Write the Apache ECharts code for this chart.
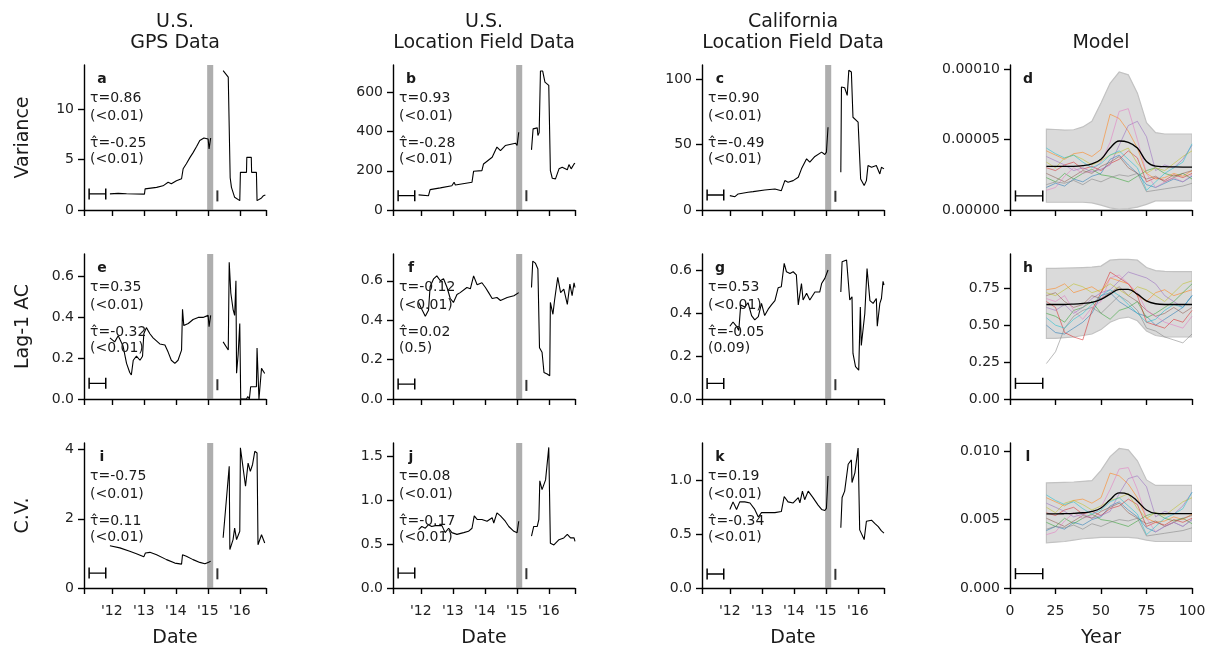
<!DOCTYPE html>
<html><head><meta charset="utf-8">
<script src="https://cdn.jsdelivr.net/npm/echarts@6/dist/echarts.min.js"></script>
<style>html,body{margin:0;padding:0;background:#fff}#c{width:1216px;height:649px}</style>
</head><body><div id="c"></div>
<script>
// ---------------- DATA ----------------
// Date panels: [year, value]
const varGpsPre = [[2011.94,1.6],[2012.2,1.65],[2012.46,1.62],[2013.02,1.58],[2013.04,2.1],[2013.4,2.25],[2013.6,2.4],[2013.76,2.75],[2013.86,2.6],[2014.02,2.9],[2014.18,3.1],[2014.23,4.1],[2014.33,4.6],[2014.44,5.2],[2014.54,5.7],[2014.65,6.3],[2014.75,6.9],[2014.88,7.15],[2015.01,7.05],[2015.04,6.06],[2015.09,7.15]];
const varGpsPost = [[2015.48,13.84],[2015.64,13.2],[2015.70,3.2],[2015.74,2.25],[2015.84,1.26],[2016.0,0.93],[2016.02,3.74],[2016.21,3.74],[2016.22,5.23],[2016.36,5.23],[2016.37,3.74],[2016.52,3.74],[2016.54,0.93],[2016.68,1.2],[2016.74,1.42],[2016.8,1.5]];
const varUsPre = [[2011.93,77],[2012.24,73],[2012.29,104],[2012.61,113],[2012.97,124],[2013.04,142],[2013.08,128],[2013.6,142],[2013.65,198],[2013.91,201],[2013.96,235],[2014.23,269],[2014.38,321],[2014.49,303],[2014.64,329],[2014.96,341],[2015.01,329],[2015.06,397]];
const varUsPost = [[2015.46,307],[2015.51,414],[2015.64,419],[2015.66,380],[2015.70,395],[2015.74,709],[2015.81,709],[2015.88,653],[2016.0,636],[2016.05,201],[2016.11,162],[2016.21,159],[2016.32,210],[2016.42,218],[2016.58,205],[2016.63,232],[2016.70,210],[2016.79,235],[2016.82,239]];
const varCaPre = [[2012.0,11.0],[2012.16,10.2],[2012.26,12.3],[2012.57,13.6],[2012.73,14.1],[2013.09,15.3],[2013.41,16.1],[2013.61,14.8],[2013.72,22.5],[2013.82,21.2],[2013.98,22.5],[2014.14,25.1],[2014.24,31.5],[2014.40,39.2],[2014.5,36.6],[2014.66,41.0],[2014.87,44.3],[2014.97,42.5],[2015.02,44.3],[2015.07,63.4]];
const varCaPost = [[2015.47,28.9],[2015.49,94.1],[2015.59,93.6],[2015.67,87.7],[2015.72,107],[2015.80,105.6],[2015.85,71],[2016.01,67.3],[2016.09,23.8],[2016.2,18.7],[2016.27,22.5],[2016.32,34],[2016.43,32.7],[2016.58,34],[2016.69,27.6],[2016.74,32.7],[2016.82,31.5]];

const acGpsPre = [[2011.94,0.30],[2012.09,0.28],[2012.2,0.31],[2012.35,0.26],[2012.46,0.175],[2012.56,0.13],[2012.61,0.118],[2012.67,0.19],[2012.77,0.21],[2012.88,0.19],[2012.96,0.21],[2013.0,0.32],[2013.08,0.35],[2013.19,0.32],[2013.29,0.30],[2013.5,0.27],[2013.66,0.265],[2013.76,0.23],[2013.86,0.19],[2013.97,0.175],[2014.07,0.19],[2014.18,0.24],[2014.21,0.44],[2014.25,0.36],[2014.39,0.37],[2014.54,0.39],[2014.70,0.40],[2014.85,0.40],[2015.01,0.41],[2015.04,0.355],[2015.09,0.41]];
const acGpsPost = [[2015.48,0.28],[2015.64,0.24],[2015.67,0.67],[2015.72,0.52],[2015.79,0.44],[2015.84,0.41],[2015.88,0.58],[2015.9,0.126],[2015.95,0.22],[2016.0,0.37],[2016.03,0.0],[2016.21,0.0],[2016.25,0.012],[2016.3,0.0],[2016.34,0.06],[2016.52,0.06],[2016.54,0.25],[2016.60,0.0],[2016.68,0.15],[2016.78,0.125]];
const acUsPre = [[2011.93,0.49],[2012.03,0.456],[2012.14,0.42],[2012.24,0.45],[2012.29,0.57],[2012.40,0.61],[2012.50,0.625],[2012.61,0.60],[2012.71,0.61],[2012.82,0.566],[2012.92,0.51],[2013.02,0.49],[2013.13,0.53],[2013.23,0.54],[2013.44,0.566],[2013.55,0.56],[2013.65,0.625],[2013.76,0.58],[2013.91,0.59],[2014.02,0.566],[2014.12,0.54],[2014.23,0.51],[2014.38,0.515],[2014.49,0.50],[2014.70,0.515],[2014.91,0.524],[2015.06,0.54]];
const acUsPost = [[2015.46,0.566],[2015.50,0.70],[2015.58,0.69],[2015.66,0.66],[2015.71,0.26],[2015.79,0.237],[2015.85,0.135],[2015.95,0.127],[2016.03,0.118],[2016.05,0.49],[2016.13,0.43],[2016.18,0.50],[2016.28,0.617],[2016.37,0.54],[2016.47,0.558],[2016.58,0.48],[2016.66,0.583],[2016.73,0.524],[2016.79,0.59],[2016.82,0.566]];
const acCaPre = [[2012.0,0.34],[2012.10,0.36],[2012.21,0.34],[2012.28,0.32],[2012.34,0.44],[2012.47,0.43],[2012.57,0.45],[2012.68,0.39],[2012.78,0.37],[2012.89,0.385],[2012.99,0.447],[2013.09,0.39],[2013.20,0.42],[2013.30,0.44],[2013.41,0.46],[2013.51,0.52],[2013.61,0.525],[2013.70,0.634],[2013.77,0.595],[2013.88,0.587],[2013.98,0.595],[2014.08,0.58],[2014.14,0.44],[2014.24,0.54],[2014.29,0.463],[2014.40,0.494],[2014.50,0.463],[2014.66,0.50],[2014.81,0.50],[2014.87,0.54],[2014.97,0.564],[2015.07,0.603]];
const acCaPost = [[2015.47,0.50],[2015.51,0.642],[2015.65,0.65],[2015.70,0.653],[2015.75,0.463],[2015.82,0.478],[2015.85,0.213],[2015.93,0.151],[2016.03,0.135],[2016.08,0.43],[2016.11,0.25],[2016.22,0.40],[2016.29,0.61],[2016.38,0.46],[2016.48,0.447],[2016.58,0.47],[2016.61,0.34],[2016.69,0.447],[2016.74,0.47],[2016.79,0.55],[2016.82,0.533]];

const cvGpsPre = [[2011.94,1.22],[2012.25,1.16],[2012.56,1.06],[2012.77,0.99],[2013.0,0.90],[2013.05,1.01],[2013.19,1.03],[2013.40,0.96],[2013.71,0.82],[2013.97,0.72],[2014.18,0.69],[2014.21,0.96],[2014.33,0.92],[2014.54,0.82],[2014.75,0.74],[2014.91,0.70],[2015.01,0.74],[2015.09,0.77]];
const cvGpsPost = [[2015.48,1.45],[2015.67,3.52],[2015.69,1.11],[2015.79,1.40],[2015.84,1.73],[2015.90,1.40],[2016.0,1.64],[2016.02,4.05],[2016.18,2.94],[2016.26,3.61],[2016.33,3.37],[2016.40,3.57],[2016.47,3.95],[2016.54,3.90],[2016.57,1.25],[2016.63,1.20],[2016.68,1.54],[2016.78,1.30]];
const cvUsPre = [[2011.93,0.665],[2012.03,0.70],[2012.14,0.68],[2012.24,0.72],[2012.34,0.70],[2012.45,0.71],[2012.66,0.71],[2012.76,0.63],[2012.87,0.68],[2012.97,0.63],[2013.13,0.61],[2013.34,0.63],[2013.49,0.645],[2013.60,0.68],[2013.67,0.82],[2013.76,0.78],[2013.91,0.78],[2014.07,0.76],[2014.23,0.80],[2014.28,0.74],[2014.38,0.855],[2014.49,0.82],[2014.64,0.76],[2014.75,0.70],[2014.91,0.645],[2015.01,0.63],[2015.06,0.76]];
const cvUsPost = [[2015.46,0.59],[2015.53,0.70],[2015.64,0.70],[2015.69,0.78],[2015.72,1.22],[2015.79,1.12],[2015.90,1.23],[2016.0,1.60],[2016.05,0.51],[2016.16,0.49],[2016.32,0.55],[2016.47,0.57],[2016.58,0.61],[2016.68,0.57],[2016.79,0.57],[2016.82,0.53]];
const cvCaPre = [[2012.0,0.73],[2012.10,0.80],[2012.21,0.73],[2012.31,0.80],[2012.47,0.80],[2012.63,0.79],[2012.78,0.73],[2012.89,0.66],[2012.99,0.70],[2013.20,0.70],[2013.41,0.70],[2013.61,0.71],[2013.70,0.85],[2013.82,0.80],[2013.98,0.79],[2014.14,0.84],[2014.19,0.79],[2014.27,0.90],[2014.34,0.82],[2014.45,0.90],[2014.60,0.84],[2014.76,0.77],[2014.87,0.73],[2014.97,0.72],[2015.02,0.74],[2015.07,1.04]];
const cvCaPost = [[2015.47,0.56],[2015.51,0.84],[2015.59,0.90],[2015.70,1.15],[2015.80,1.19],[2015.82,0.98],[2015.91,1.07],[2016.01,1.30],[2016.06,0.54],[2016.20,0.45],[2016.27,0.62],[2016.43,0.63],[2016.53,0.60],[2016.64,0.57],[2016.74,0.53],[2016.82,0.51]];

// Date axis ticks and labels
const dateTicks = [2011.13, 2012, 2013, 2014, 2015, 2016, 2016.82];
const dateLabels = [2012, 2013, 2014, 2015, 2016];
const gapBand = [2014.98, 2015.17];
const windowBar = [2011.29, 2011.81];
const restartMark = 2015.3;

// Model panels
const modelYears = [20,25,30,35,40,45,50,55,60,65,70,75,80,85,90,95,100];
const modelWindowBar = [3, 18];
// variance (units of 1e-5)
const varModelMean = [3.1,3.1,3.1,3.1,3.15,3.28,3.6,4.4,4.9,4.8,4.4,3.45,3.12,3.08,3.06,3.05,3.05];
const varModelHigh = [5.75,5.72,5.68,5.7,5.9,6.3,7.6,9.0,9.8,9.6,8.3,6.2,5.5,5.4,5.4,5.4,5.4];
const varModelLow = [0.55,0.55,0.55,0.55,0.55,0.5,0.35,0.15,0.05,0.1,0.2,0.4,0.65,0.65,0.65,0.65,0.65];
const varModelRuns = [
 [1.6,1.9,1.7,2.2,2.0,2.4,2.6,3.6,3.9,3.2,2.6,1.8,1.6,1.9,2.2,2.0,2.4],
 [4.2,3.9,3.6,4.0,4.1,3.8,4.3,6.8,6.5,5.6,4.4,2.6,2.2,2.3,2.6,2.4,2.8],
 [2.3,2.0,2.6,2.2,2.6,2.9,2.5,2.4,2.2,2.0,2.4,2.8,3.0,2.6,2.4,2.6,2.2],
 [3.0,2.8,3.2,3.4,2.9,3.1,2.8,3.3,3.6,4.2,3.7,2.0,2.3,2.1,2.5,2.3,2.6],
 [3.8,3.5,3.2,2.8,3.0,2.7,2.9,3.2,4.6,6.0,6.3,5.2,2.8,3.2,3.0,3.6,4.6],
 [2.6,2.3,2.0,2.4,2.8,2.6,3.1,3.4,3.8,3.0,2.6,2.2,2.4,2.0,2.3,2.6,2.8],
 [1.4,1.6,2.4,3.0,2.6,2.8,3.4,4.8,7.0,7.2,5.0,2.6,1.6,2.0,2.3,2.0,2.5],
 [1.8,2.0,1.9,2.1,1.8,2.2,2.0,2.3,2.5,2.4,2.6,1.3,1.4,1.5,1.6,1.7,1.9],
 [3.4,3.0,3.7,3.9,3.6,3.2,3.5,3.9,4.1,4.4,3.3,2.6,3.0,2.8,3.3,3.8,4.2],
 [4.4,4.0,3.7,3.9,3.4,3.0,3.3,3.9,4.2,3.6,3.0,1.4,2.0,2.6,3.0,3.4,4.7]
];
// lag-1 autocorrelation
const acModelMean = [0.64,0.64,0.64,0.643,0.648,0.655,0.675,0.71,0.742,0.743,0.71,0.665,0.645,0.64,0.64,0.64,0.64];
const acModelHigh = [0.885,0.885,0.886,0.888,0.89,0.893,0.90,0.94,0.946,0.945,0.94,0.89,0.87,0.865,0.863,0.863,0.863];
const acModelLow = [0.41,0.41,0.415,0.42,0.43,0.44,0.47,0.52,0.545,0.555,0.53,0.46,0.43,0.42,0.42,0.42,0.42];
const acModelRuns = [
 [0.50,0.45,0.44,0.48,0.52,0.58,0.70,0.72,0.66,0.62,0.58,0.56,0.50,0.54,0.58,0.62,0.70],
 [0.74,0.75,0.78,0.72,0.74,0.76,0.72,0.82,0.80,0.78,0.70,0.66,0.72,0.74,0.70,0.72,0.74],
 [0.58,0.56,0.52,0.60,0.62,0.66,0.58,0.54,0.60,0.62,0.66,0.55,0.58,0.62,0.66,0.72,0.78],
 [0.66,0.62,0.45,0.42,0.40,0.60,0.72,0.86,0.82,0.78,0.70,0.52,0.50,0.48,0.54,0.52,0.60],
 [0.62,0.60,0.64,0.58,0.62,0.68,0.72,0.74,0.80,0.86,0.84,0.82,0.78,0.70,0.66,0.62,0.70],
 [0.70,0.72,0.66,0.62,0.64,0.70,0.68,0.72,0.76,0.70,0.66,0.60,0.56,0.58,0.62,0.58,0.62],
 [0.68,0.66,0.70,0.60,0.54,0.62,0.66,0.82,0.84,0.78,0.72,0.60,0.56,0.52,0.50,0.48,0.56],
 [0.24,0.32,0.48,0.56,0.60,0.62,0.58,0.64,0.70,0.66,0.60,0.48,0.46,0.42,0.40,0.38,0.44],
 [0.72,0.70,0.74,0.78,0.76,0.72,0.74,0.78,0.74,0.70,0.76,0.74,0.70,0.66,0.72,0.78,0.80],
 [0.55,0.50,0.48,0.54,0.58,0.64,0.70,0.74,0.70,0.64,0.58,0.52,0.54,0.60,0.64,0.62,0.70]
];
// coefficient of variation (units of 1e-3)
const cvModelMean = [5.42,5.42,5.43,5.45,5.5,5.6,5.85,6.45,6.95,6.85,6.35,5.7,5.46,5.44,5.44,5.44,5.44];
const cvModelHigh = [7.68,7.7,7.72,7.75,7.8,7.85,8.6,9.6,10.2,10.1,9.3,7.9,7.5,7.5,7.5,7.5,7.5];
const cvModelLow = [3.3,3.35,3.4,3.5,3.6,3.65,3.7,3.7,3.7,3.7,3.65,3.5,3.4,3.4,3.4,3.4,3.4];
const cvModelRuns = [
 [4.2,4.5,4.3,4.8,4.6,5.0,5.2,6.0,6.3,5.7,5.2,4.4,4.1,4.5,4.8,4.5,5.0],
 [6.6,6.3,6.0,6.4,6.5,6.2,6.6,8.4,8.2,7.6,6.6,5.1,4.8,4.9,5.2,5.0,5.4],
 [4.8,4.5,5.1,4.7,5.1,5.4,5.0,4.9,4.7,4.5,4.9,5.3,5.5,5.1,4.9,5.1,4.7],
 [5.5,5.3,5.7,5.9,5.4,5.6,5.3,5.8,6.0,6.5,6.1,4.5,4.8,4.6,5.0,4.8,5.1],
 [6.2,5.9,5.6,5.2,5.4,5.1,5.3,5.6,6.9,8.0,8.2,7.4,5.2,5.6,5.4,6.0,7.0],
 [5.1,4.8,4.5,4.9,5.3,5.1,5.6,5.9,6.2,5.5,5.1,4.7,4.9,4.5,4.8,5.1,5.3],
 [3.9,4.1,4.9,5.5,5.1,5.3,5.9,7.2,8.7,8.8,7.2,5.1,4.1,4.5,4.8,4.5,5.0],
 [4.3,4.5,4.4,4.6,4.3,4.7,4.5,4.8,5.0,4.9,5.1,3.8,3.9,4.0,4.1,4.2,4.4],
 [5.9,5.5,6.2,6.4,6.1,5.7,6.0,6.4,6.6,6.9,5.8,5.1,5.5,5.3,5.8,6.3,6.6],
 [6.8,6.4,6.1,6.3,5.8,5.4,5.7,6.3,6.6,6.0,5.4,3.9,4.5,5.1,5.4,5.8,7.0]
];

const TAU = '\u03C4', TAUHAT = '\u03C4\u0302';
const tauText = {
 a:[TAU+'=0.86','(<0.01)',TAUHAT+'=-0.25','(<0.01)'],
 b:[TAU+'=0.93','(<0.01)',TAUHAT+'=-0.28','(<0.01)'],
 c:[TAU+'=0.90','(<0.01)',TAUHAT+'=-0.49','(<0.01)'],
 e:[TAU+'=0.35','(<0.01)',TAUHAT+'=-0.32','(<0.01)'],
 f:[TAU+'=-0.12','(<0.01)',TAUHAT+'=0.02','(0.5)'],
 g:[TAU+'=0.53','(<0.01)',TAUHAT+'=-0.05','(0.09)'],
 i:[TAU+'=-0.75','(<0.01)',TAUHAT+'=0.11','(<0.01)'],
 j:[TAU+'=0.08','(<0.01)',TAUHAT+'=-0.17','(<0.01)'],
 k:[TAU+'=0.19','(<0.01)',TAUHAT+'=-0.34','(<0.01)']
};
const colTitles = [['U.S.','GPS Data'],['U.S.','Location Field Data'],['California','Location Field Data'],['','Model']];
const rowNames = ['Variance','Lag-1 AC','C.V.'];

// ---------------- LAYOUT / STYLE ----------------
const FONT = '"DejaVu Sans", sans-serif';
const TAB10 = ['#1f77b4','#ff7f0e','#2ca02c','#d62728','#9467bd','#8c564b','#e377c2','#7f7f7f','#bcbd22','#17becf'];
const COL_LEFT = [84, 393, 702, 1010], ROW_TOP = [65, 254, 443], GW = 182, GH = 145;

const f0 = v => String(v), f1 = v => v.toFixed(1), f2 = v => v.toFixed(2);
const dataPanels = [
 {l:'a',row:0,col:0,pre:varGpsPre,post:varGpsPost,ymax:14.4,ticks:[0,5,10],fmt:f0,bar:1.6,mark:1.4},
 {l:'b',row:0,col:1,pre:varUsPre,post:varUsPost,ymax:740,ticks:[0,200,400,600],fmt:f0,bar:73,mark:73},
 {l:'c',row:0,col:2,pre:varCaPre,post:varCaPost,ymax:111,ticks:[0,50,100],fmt:f0,bar:11.5,mark:10.5},
 {l:'e',row:1,col:0,pre:acGpsPre,post:acGpsPost,ymax:0.711,ticks:[0,0.2,0.4,0.6],fmt:f1,bar:0.077,mark:0.07},
 {l:'f',row:1,col:1,pre:acUsPre,post:acUsPost,ymax:0.736,ticks:[0,0.2,0.4,0.6],fmt:f1,bar:0.076,mark:0.069},
 {l:'g',row:1,col:2,pre:acCaPre,post:acCaPost,ymax:0.678,ticks:[0,0.2,0.4,0.6],fmt:f1,bar:0.073,mark:0.067},
 {l:'i',row:2,col:0,pre:cvGpsPre,post:cvGpsPost,ymax:4.19,ticks:[0,2,4],fmt:f0,bar:0.43,mark:0.41},
 {l:'j',row:2,col:1,pre:cvUsPre,post:cvUsPost,ymax:1.65,ticks:[0,0.5,1,1.5],fmt:f1,bar:0.17,mark:0.163},
 {l:'k',row:2,col:2,pre:cvCaPre,post:cvCaPost,ymax:1.347,ticks:[0,0.5,1],fmt:f1,bar:0.13,mark:0.127}
];
const modelPanels = [
 {l:'d',row:0,mean:varModelMean,hi:varModelHigh,lo:varModelLow,runs:varModelRuns,ymax:10.3,ticks:[0,5,10],fmt:v=>(v*1e-5).toFixed(5),bar:1.0},
 {l:'h',row:1,mean:acModelMean,hi:acModelHigh,lo:acModelLow,runs:acModelRuns,ymax:0.982,ticks:[0,0.25,0.5,0.75],fmt:f2,bar:0.106},
 {l:'l',row:2,mean:cvModelMean,hi:cvModelHigh,lo:cvModelLow,runs:cvModelRuns,ymax:10.6,ticks:[0,5,10],fmt:v=>(v*1e-3).toFixed(3),bar:1.05}
];

const grids=[], xAxes=[], yAxes=[], series=[], graphics=[];
const AX_LINE = {show:true, onZero:false, lineStyle:{color:'#000', width:1.4}};
const AX_TICK = {show:true, inside:false, length:6, lineStyle:{color:'#000', width:1.4}};
const LBL = {color:'#222', fontSize:14, fontFamily:FONT};

function txt(x, y, text, font, align, rot) {
  graphics.push({type:'text', x, y, rotation: rot||0, z:100, silent:true,
    style:{text, font, fill:'#1a1a1a', align:align||'left', verticalAlign:'middle', textAlign:align||'left', textVerticalAlign:'middle'}});
}

function addGrid(left, top, xAx, yAx) {
  const k = grids.length;
  grids.push({left, top, width:GW, height:GH});
  xAx.gridIndex = k; yAx.gridIndex = k;
  xAxes.push(xAx); yAxes.push(yAx);
  return k;
}
function yAxisFor(p) {
  return {type:'value', min:0, max:p.ymax, axisLine:AX_LINE,
    axisTick:Object.assign({customValues:p.ticks}, AX_TICK),
    axisLabel:Object.assign({customValues:p.ticks, formatter:p.fmt, margin:10}, LBL),
    splitLine:{show:false}};
}
function scaleBar(k, xs, y) {
  series.push({type:'line', xAxisIndex:k, yAxisIndex:k, data:[[xs[0],y],[xs[1],y]], showSymbol:true,
    symbol:'rect', symbolSize:[1.5,11], itemStyle:{color:'#000'}, lineStyle:{color:'#000', width:1.3}, silent:true, z:5});
}

dataPanels.forEach(p => {
  const left = COL_LEFT[p.col], top = ROW_TOP[p.row];
  const k = addGrid(left, top,
    {type:'value', min:2011.13, max:2016.82, axisLine:AX_LINE,
      axisTick:Object.assign({customValues:dateTicks}, AX_TICK),
      axisLabel:Object.assign({show:p.row===2, customValues:dateLabels, formatter:v=>"'"+String(Math.round(v)).slice(2), margin:16}, LBL),
      splitLine:{show:false}},
    yAxisFor(p));
  const lineOpts = {type:'line', xAxisIndex:k, yAxisIndex:k, showSymbol:false, silent:true,
    lineStyle:{color:'#000', width:1.1}, itemStyle:{color:'#000'}};
  series.push(Object.assign({}, lineOpts, {data:p.pre,
    markArea:{silent:true, itemStyle:{color:'rgba(120,120,120,0.6)'}, data:[[{xAxis:gapBand[0]},{xAxis:gapBand[1]}]]}}));
  series.push(Object.assign({}, lineOpts, {data:p.post}));
  scaleBar(k, windowBar, p.bar);
  series.push({type:'scatter', xAxisIndex:k, yAxisIndex:k, data:[[restartMark, p.mark]], symbol:'rect', symbolSize:[2,11], itemStyle:{color:'#000'}, silent:true});
  txt(left+18, top+14, p.l, 'bold 14px '+FONT, 'center');
  [33,51,78,94].forEach((dy,i) => txt(left+6, top+dy, tauText[p.l][i], '14px '+FONT, 'left'));
});

modelPanels.forEach(p => {
  const left = COL_LEFT[3], top = ROW_TOP[p.row];
  const k = addGrid(left, top,
    {type:'value', min:0, max:100, interval:25, axisLine:AX_LINE, axisTick:AX_TICK,
      axisLabel:Object.assign({show:p.row===2, margin:16}, LBL), splitLine:{show:false}},
    yAxisFor(p));
  const hi = p.hi, lo = p.lo;
  series.push({type:'custom', xAxisIndex:k, yAxisIndex:k, silent:true, clip:true, z:1,
    data:[[modelYears[0], lo[0]]],
    renderItem:(params, api) => {
      const pts = [];
      for (let i=0;i<modelYears.length;i++) pts.push(api.coord([modelYears[i], hi[i]]));
      for (let i=modelYears.length-1;i>=0;i--) pts.push(api.coord([modelYears[i], lo[i]]));
      return {type:'polygon', shape:{points:pts}, style:{fill:'#dadada', stroke:'#c2c2c2', lineWidth:1.2}};
    }});
  p.runs.forEach((r,i) => series.push({type:'line', xAxisIndex:k, yAxisIndex:k, showSymbol:false, silent:true, z:2,
    data:modelYears.map((x,j)=>[x,r[j]]), lineStyle:{color:TAB10[i], width:0.9, opacity:0.6}}));
  series.push({type:'line', xAxisIndex:k, yAxisIndex:k, showSymbol:false, silent:true, z:3, smooth:0.4,
    data:modelYears.map((x,j)=>[x,p.mean[j]]), lineStyle:{color:'#000', width:1.3}});
  scaleBar(k, modelWindowBar, p.bar);
  txt(left+18, top+14, p.l, 'bold 14px '+FONT, 'center');
});

// titles and axis names
const colCenter = COL_LEFT.map(l => l + GW/2);
colTitles.forEach((t,i) => { if (t[0]) txt(colCenter[i], 22, t[0], '19px '+FONT, 'center'); txt(colCenter[i], 43, t[1], '19px '+FONT, 'center'); });
rowNames.forEach((n,i) => txt(23, ROW_TOP[i]+GH/2, n, '19px '+FONT, 'center', Math.PI/2));
[0,1,2].forEach(i => txt(colCenter[i], 638, 'Date', '19px '+FONT, 'center'));
txt(colCenter[3], 638, 'Year', '19px '+FONT, 'center');

const chart = echarts.init(document.getElementById('c'), null, {renderer:'canvas'});
chart.setOption({animation:false, backgroundColor:'#fff', grid:grids, xAxis:xAxes, yAxis:yAxes, series, graphic:{elements:graphics}});
</script></body></html>
